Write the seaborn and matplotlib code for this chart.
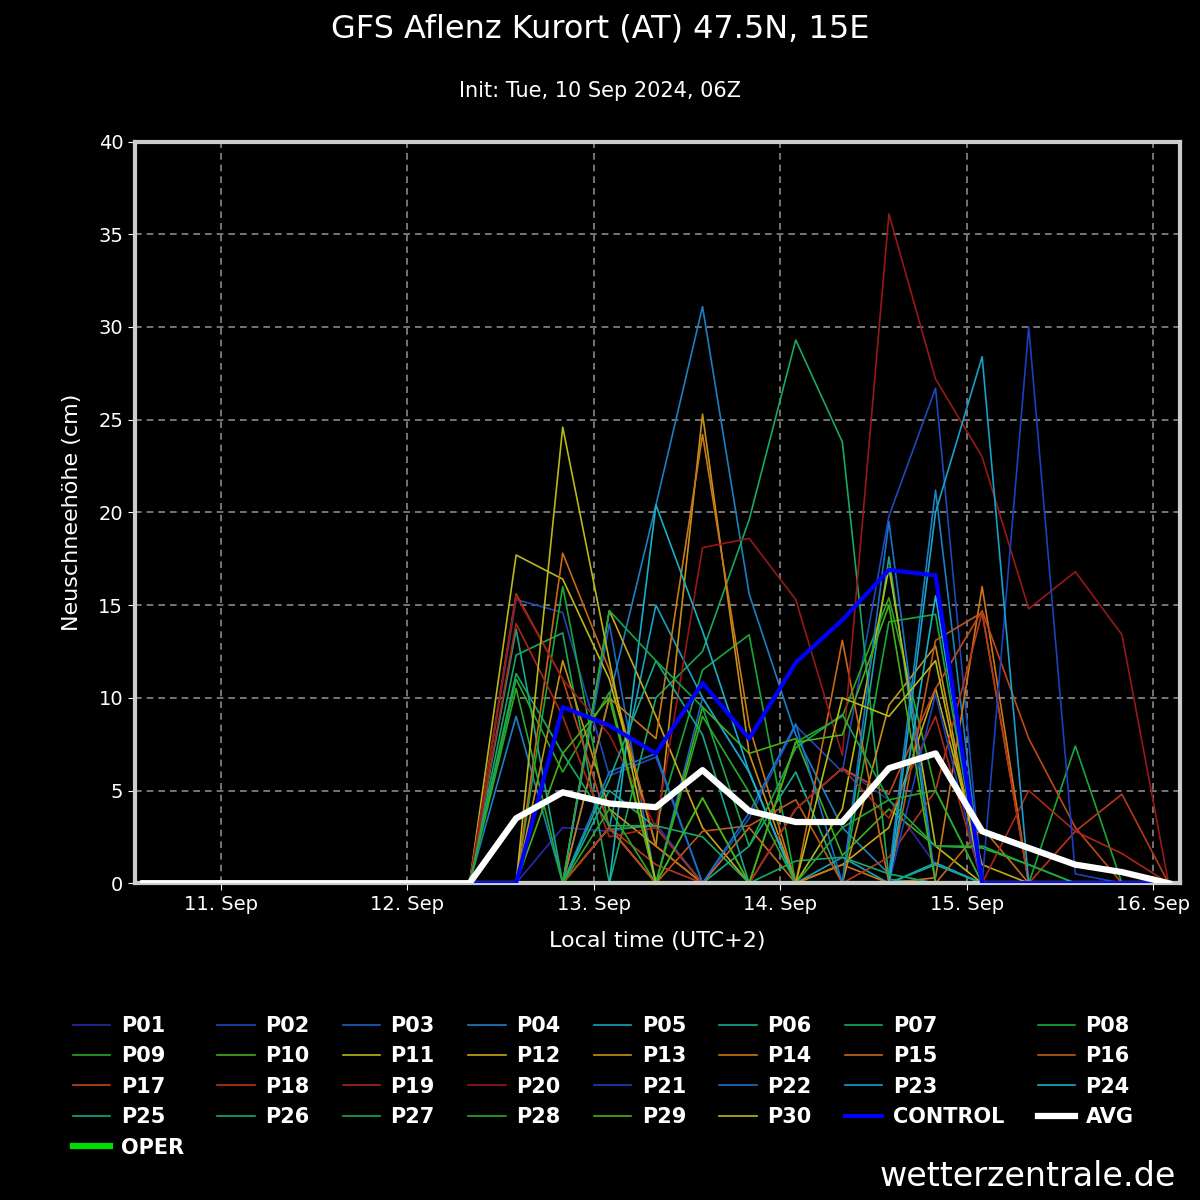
import matplotlib
matplotlib.use("Agg")
import matplotlib.pyplot as plt
from matplotlib.lines import Line2D
import pandas as pd
import seaborn as sns

# hours since 10 Sep 00:00 local, 6-hourly from 10 Sep 14:00
hours = [14 + 6 * i for i in range(23)]
lead_zeros = [0.0] * 8  # idx 0..7 all zero

# idx 8..21 values per member, idx 22 = 0
members = {
    "P01": [0, 3.0, 2.8, 3.2, 0, 0, 4.0, 6.2, 4.5, 1.0, 0, 0, 0, 0],
    "P02": [15.3, 14.6, 5.8, 6.8, 0, 3.5, 8.5, 6.0, 19.8, 26.7, 0, 0, 0, 0],
    "P03": [0, 0, 14.0, 0, 10.0, 6.0, 0, 0, 0, 0, 0, 0, 0, 0],
    "P04": [9.0, 0, 10.0, 20.4, 31.1, 15.6, 8.0, 3.0, 0.5, 21.2, 0, 0, 0, 0],
    "P05": [0, 0, 3.0, 15.0, 10.0, 6.0, 0, 1.4, 0, 1.1, 0, 0, 0, 0],
    "P06": [13.7, 0, 5.0, 3.0, 0, 2.0, 6.0, 0, 17.6, 0, 0, 0, 0, 0],
    "P07": [12.3, 13.5, 0, 10.0, 12.5, 19.6, 29.3, 23.8, 0.2, 0, 0, 0, 0, 0],
    "P08": [0, 16.0, 2.9, 3.1, 11.5, 13.4, 0, 0, 14.1, 14.5, 0, 0, 7.4, 0],
    "P09": [11.0, 6.0, 10.3, 0, 4.6, 0, 7.6, 9.0, 15.4, 5.0, 0, 0, 0, 0],
    "P10": [0, 0, 3.0, 0, 9.5, 7.0, 7.8, 1.5, 4.0, 2.0, 1.9, 1.0, 0, 0],
    "P11": [17.7, 16.4, 11.0, 2.0, 0, 0, 0, 4.0, 17.0, 2.0, 0, 0, 0, 0],
    "P12": [0, 0, 14.7, 9.0, 3.0, 0, 0, 1.0, 3.0, 10.5, 1.0, 0, 0, 0],
    "P13": [0, 12.0, 4.0, 2.0, 25.3, 7.0, 0, 0, 9.6, 12.8, 0, 0, 0, 0],
    "P14": [0, 0, 10.0, 7.8, 24.2, 8.5, 0, 1.0, 0, 0.3, 16.0, 0, 0, 0],
    "P15": [0, 17.8, 11.5, 2.0, 0, 3.0, 0, 13.1, 0, 0, 3.0, 0, 0, 0],
    "P16": [0, 0, 3.0, 0, 2.8, 3.1, 4.5, 0, 0, 13.1, 14.6, 0, 0, 0],
    "P17": [15.6, 11.0, 3.0, 0, 0, 0, 4.0, 6.2, 4.8, 10.5, 14.7, 7.8, 3.0, 0],
    "P18": [0, 0, 3.0, 1.0, 0, 0, 0, 0, 1.4, 5.0, 14.6, 0, 2.8, 4.8],
    "P19": [14.0, 9.0, 2.5, 3.0, 0, 0, 4.0, 6.2, 3.5, 9.0, 0, 5.0, 2.8, 1.6],
    "P20": [15.5, 11.0, 8.0, 3.0, 18.1, 18.6, 15.3, 6.9, 36.1, 27.2, 23.0, 14.8, 16.8, 13.4],
    "P21": [0, 0, 0, 0, 0, 0, 0, 0, 0, 10.2, 0, 30.0, 0.5, 0],
    "P22": [0, 0, 6.0, 7.0, 0, 3.8, 8.6, 0, 19.5, 0, 0, 0, 0, 0],
    "P23": [0, 0, 0, 0, 0, 0, 0, 0, 0, 20.0, 28.4, 0, 0, 0],
    "P24": [0, 0, 0, 20.4, 13.6, 6.0, 0, 0, 0, 15.5, 0, 0, 0, 0],
    "P25": [0, 0, 5.6, 12.0, 8.0, 0, 0, 0, 0, 1.0, 0, 0, 0, 0],
    "P26": [11.3, 7.0, 3.1, 3.1, 2.5, 0, 1.2, 1.4, 0.5, 0, 0, 0, 0, 0],
    "P27": [0, 0, 14.7, 12.0, 9.5, 2.0, 7.3, 9.1, 4.5, 2.0, 2.0, 1.0, 0, 0],
    "P28": [10.5, 0, 4.0, 0, 9.0, 4.9, 0, 3.0, 4.5, 5.0, 0, 0, 0, 0],
    "P29": [0, 7.0, 10.0, 0, 4.6, 0, 7.6, 8.0, 15.0, 0, 0, 0, 0, 0],
    "P30": [0, 24.6, 12.0, 0, 0, 0, 0, 10.0, 9.0, 12.0, 0, 0, 0, 0],
}
control_vals = [0, 9.5, 8.5, 7.0, 10.8, 7.8, 11.9, 14.2, 16.9, 16.6, 0, 0, 0, 0]
avg_vals = [3.5, 4.9, 4.3, 4.1, 6.1, 3.9, 3.3, 3.3, 6.2, 7.0, 2.8, 1.9, 1.0, 0.6]
oper_vals = [0] * 14

colors = [
    "#2a2aa8", "#1f48b8", "#1c62c0", "#1a80c4", "#18a0c0", "#18a890", "#18a860", "#18a838",
    "#28a820", "#40b018", "#b8b818", "#c8a818", "#c89018", "#c87818", "#c86818", "#c05818",
    "#c04818", "#b83818", "#a82818", "#981818", "#1a40c0", "#1a70c8", "#18a0c8", "#18b0c8",
    "#18a888", "#18a868", "#18a848", "#28a828", "#48b018", "#b8b818",
]

rows = []
for name, vals in members.items():
    for h, v in zip(hours, lead_zeros + vals + [0.0]):
        rows.append({"hour": h, "snow": v, "member": name})
df = pd.DataFrame(rows)

fig = plt.figure(figsize=(12, 12), dpi=100, facecolor="black")
ax = fig.add_axes([0.1125, 0.264, 0.871, 0.618], facecolor="black")
plt.rcParams["font.family"] = ["DejaVu Sans"]

ax.plot(hours, lead_zeros + oper_vals + [0.0], color="#00dd00", lw=3, zorder=1)
sns.lineplot(data=df, x="hour", y="snow", hue="member", palette=colors,
             lw=1.2, legend=False, ax=ax, zorder=2)
ax.plot(hours, lead_zeros + control_vals + [0.0], color="#0000ff", lw=3, zorder=3)
ax.plot(hours, lead_zeros + avg_vals + [0.0], color="white", lw=4.5, zorder=4)

ax.set_xlim(12.93, 147.5)
ax.set_ylim(0, 40)
ax.set_xticks([24, 48, 72, 96, 120, 144])
ax.set_xticklabels(["11. Sep", "12. Sep", "13. Sep", "14. Sep", "15. Sep", "16. Sep"])
ax.set_yticks(range(0, 41, 5))
ax.grid(True, color="#888888", ls=(0, (4, 3)), lw=1.2)
for s in ax.spines.values():
    s.set_color("#cccccc")
    s.set_linewidth(3)
ax.tick_params(colors="white", labelsize=14, length=5)
ax.set_xlabel("Local time (UTC+2)", color="white", fontsize=16, labelpad=12)
ax.set_ylabel("Neuschneehöhe (cm)", color="white", fontsize=16, labelpad=12)

fig.text(0.5, 0.976, "GFS Aflenz Kurort (AT) 47.5N, 15E", color="white",
         fontsize=23, ha="center", va="center")
fig.text(0.5, 0.924, "Init: Tue, 10 Sep 2024, 06Z", color="white",
         fontsize=15, ha="center", va="center")
fig.text(0.98, 0.02, "wetterzentrale.de", color="white", fontsize=24,
         ha="right", va="center")

labels = list(members.keys()) + ["CONTROL", "AVG", "OPER"]
handles = [Line2D([], [], color=c, lw=1.2) for c in colors]
handles += [Line2D([], [], color="#0000ff", lw=3),
            Line2D([], [], color="white", lw=4.5),
            Line2D([], [], color="#00dd00", lw=4.5)]
order = []
for c in range(8):
    for r in range(5):
        i = c + 8 * r
        if i < len(labels):
            order.append(i)
leg = fig.legend([handles[i] for i in order], [labels[i] for i in order],
                 ncol=8, loc="upper left", bbox_to_anchor=(0.045, 0.169),
                 frameon=False, handlelength=1.8, handletextpad=0.5,
                 columnspacing=1.6, labelspacing=0.5,
                 prop={"weight": "bold", "size": 15})
for t in leg.get_texts():
    t.set_color("white")

fig.savefig("out.png", dpi=100, facecolor="black")
